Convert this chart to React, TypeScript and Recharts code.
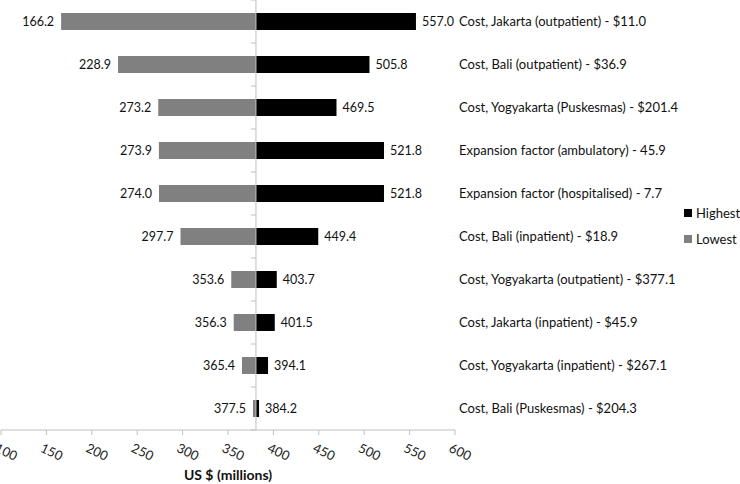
import { BarChart, Bar, XAxis, YAxis, LabelList, Legend, ReferenceLine } from 'recharts';

document.body.style.margin = '0';

const categories = [
  'Cost, Jakarta (outpatient) - $11.0',
  'Cost, Bali (outpatient) - $36.9',
  'Cost, Yogyakarta (Puskesmas) - $201.4',
  'Expansion factor (ambulatory) - 45.9',
  'Expansion factor (hospitalised) - 7.7',
  'Cost, Bali (inpatient) - $18.9',
  'Cost, Yogyakarta (outpatient) - $377.1',
  'Cost, Jakarta (inpatient) - $45.9',
  'Cost, Yogyakarta (inpatient) - $267.1',
  'Cost, Bali (Puskesmas) - $204.3',
];
const lowValues = [166.2, 228.9, 273.2, 273.9, 274.0, 297.7, 353.6, 356.3, 365.4, 377.5];
const highValues = [557.0, 505.8, 469.5, 521.8, 521.8, 449.4, 403.7, 401.5, 394.1, 384.2];
const baseValue = 380.8;
const xTicks = [100, 150, 200, 250, 300, 350, 400, 450, 500, 550, 600];

const data = categories.map((name, i) => ({
  name,
  low: lowValues[i],
  high: highValues[i],
  lowRange: [lowValues[i], baseValue],
  highRange: [baseValue, highValues[i]],
}));

const FONT = 'Lato, sans-serif';
const BAR = 17;

function XTick({ x, y, payload }: any) {
  return (
    <g transform={`translate(${x - 3},${y + 8})`}>
      <text transform="rotate(25)" textAnchor="start" dy="0.71em" fontSize={13} fontFamily={FONT} fill="#222">
        {payload.value}
      </text>
    </g>
  );
}

// vertical axis at the base value, with small ticks between categories
function BaseAxis(props: any) {
  const { x1, y1, y2 } = props;
  const n = categories.length;
  const marks = [];
  for (let k = 0; k <= n; k++) {
    const y = y1 + ((y2 - y1) * k) / n;
    marks.push(<line key={k} x1={x1 - 5} x2={x1} y1={y} y2={y} stroke="#bfbfbf" />);
  }
  return (
    <g>
      <line x1={x1} x2={x1} y1={y1} y2={y2} stroke="#bfbfbf" />
      {marks}
    </g>
  );
}

function renderLegend(props: any) {
  const items = props.payload || [];
  return (
    <div style={{ fontFamily: FONT, fontSize: 13, color: '#111' }}>
      {items.map((it: any) => (
        <div key={it.value} style={{ display: 'flex', alignItems: 'center', height: 26 }}>
          <span style={{ width: 8, height: 8, background: it.color, marginRight: 4, display: 'inline-block' }} />
          {it.value}
        </div>
      ))}
    </div>
  );
}

export default function App() {
  return (
    <BarChart
      width={740}
      height={484}
      data={data}
      layout="vertical"
      barGap={-BAR}
      margin={{ top: 0, right: 0, left: 1, bottom: 0 }}
    >
      <XAxis
        type="number"
        domain={[100, 600]}
        ticks={xTicks}
        allowDataOverflow
        height={54}
        axisLine={{ stroke: '#bfbfbf' }}
        tickLine={{ stroke: '#bfbfbf' }}
        tickSize={5}
        tickMargin={0}
        tick={<XTick />}
        interval={0}
        label={{
          value: 'US $  (millions)',
          position: 'insideBottom',
          offset: 4,
          style: { fontWeight: 'bold', fontSize: 14, fontFamily: FONT, fill: '#111', whiteSpace: 'pre' },
        }}
      />
      <YAxis
        type="category"
        dataKey="name"
        orientation="right"
        width={285}
        axisLine={false}
        tickLine={false}
        tickSize={0}
        tickMargin={4}
        interval={0}
        tick={{ textAnchor: 'start', fontSize: 13, fontFamily: FONT, fill: '#111' }}
      />
      <ReferenceLine x={baseValue} shape={<BaseAxis />} />
      <Bar dataKey="highRange" name="Highest" fill="#000000" barSize={BAR} isAnimationActive={false}>
        <LabelList
          dataKey="high"
          position="right"
          offset={6}
          formatter={(v: any) => Number(v).toFixed(1)}
          style={{ fontSize: 12.5, fontFamily: FONT, fill: '#111' }}
        />
      </Bar>
      <Bar dataKey="lowRange" name="Lowest" fill="#808080" barSize={BAR} isAnimationActive={false}>
        <LabelList
          dataKey="low"
          position="left"
          offset={7}
          formatter={(v: any) => Number(v).toFixed(1)}
          style={{ fontSize: 12.5, fontFamily: FONT, fill: '#111' }}
        />
      </Bar>
      <Legend
        layout="vertical"
        align="center"
        verticalAlign="middle"
        wrapperStyle={{ left: 684, top: 200, width: 'auto' }}
        content={renderLegend}
      />
    </BarChart>
  );
}
